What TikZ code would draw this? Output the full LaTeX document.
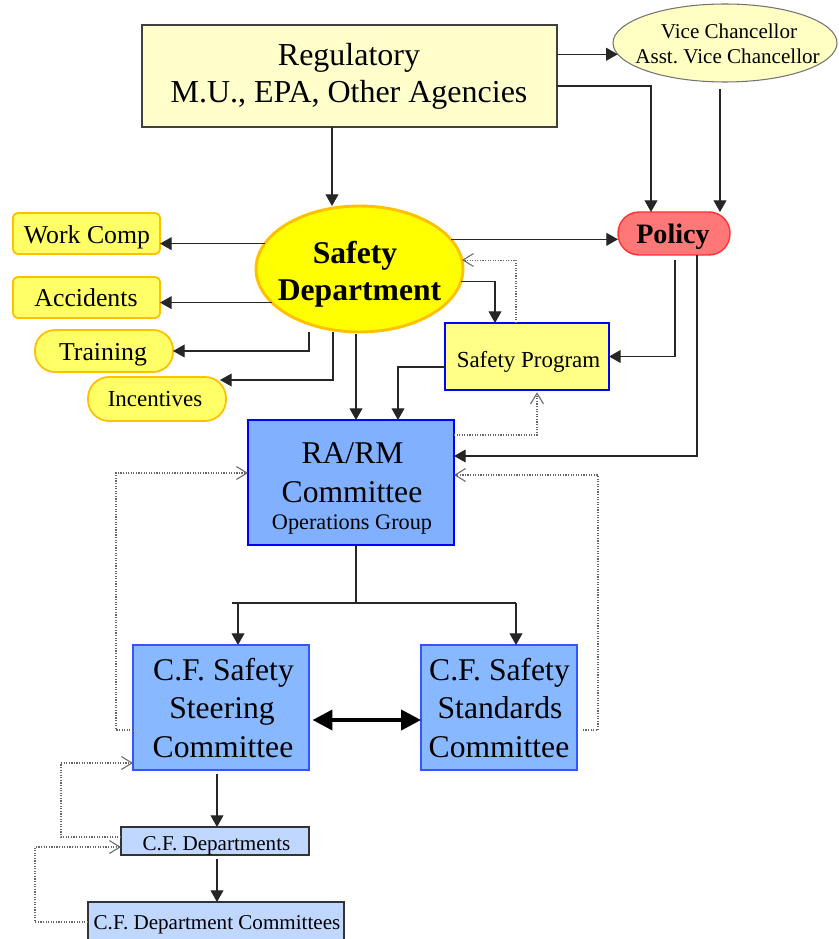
\documentclass[tikz,border=0pt]{standalone}
\usepackage{fontspec}
\setmainfont{Liberation Serif}
\usetikzlibrary{arrows.meta,calc,shapes.geometric}
\definecolor{regfill}{HTML}{FFFFCC}
\definecolor{vcfill}{HTML}{FFFFC4}
\definecolor{gold}{HTML}{FFC000}
\definecolor{lyel}{HTML}{FFFF66}
\definecolor{sdyel}{HTML}{FFFF00}
\definecolor{polfill}{HTML}{FF7777}
\definecolor{polline}{HTML}{FF3333}
\definecolor{spfill}{HTML}{FFFF88}
\definecolor{rafill}{HTML}{80B0FF}
\definecolor{stfill}{HTML}{88B8FF}
\definecolor{stline}{HTML}{3355FF}
\definecolor{cfdfill}{HTML}{C0D8FF}
\newcommand\fsz[1]{\fontsize{#1}{#1}\selectfont}
\frenchspacing
\begin{document}
\begin{tikzpicture}[x=0.8536pt,y=-0.8536pt,
  sz/.style 2 args={minimum width={#1*0.8536pt},minimum height={#2*0.8536pt}},
  shp/.style={inner sep=0pt,outer sep=0pt},
  txt/.style={anchor=base,inner sep=0pt},
  arr/.style={draw=black!85,line width=1.1pt,-{Triangle[length=10pt,width=11pt]}},
  ln/.style={draw=black!85,line width=1.1pt},
  dotarr/.style={draw=black!60,line width=0.9pt,dash pattern=on 1pt off 1.2pt,-{Straight Barb[length=9pt,width=11pt]}}]
\useasboundingbox (0,0) rectangle (838,939);
\clip (0,0) rectangle (838,939);
% shapes
\node[shp,sz={415}{102},draw=black!75,line width=1.1pt,fill=regfill] (reg) at (349.5,76) {};
\node[shp,ellipse,sz={224}{78},draw=black!55,line width=0.9pt,fill=vcfill] (vc) at (725,43) {};
\node[shp,sz={112}{43},rounded corners=18pt,draw=polline,line width=1.2pt,fill=polfill] (pol) at (674,233.5) {};
\node[shp,ellipse,sz={207}{126},draw=gold,line width=2.5pt,fill=sdyel] (sd) at (359.5,269) {};
\node[shp,sz={147}{41},rounded corners=4pt,draw=gold,line width=1.5pt,fill=lyel] (wc) at (86.5,233.5) {};
\node[shp,sz={147}{41},rounded corners=4pt,draw=gold,line width=1.5pt,fill=lyel] (acc) at (86.5,297.5) {};
\node[shp,sz={138}{42},rounded corners=17pt,draw=gold,line width=1.5pt,fill=lyel] (trn) at (104,351) {};
\node[shp,sz={138}{44},rounded corners=18pt,draw=gold,line width=1.5pt,fill=lyel] (inc) at (157,399) {};
\node[shp,sz={164}{67},draw=blue,line width=2.5pt,fill=spfill] (sp) at (527,356.5) {};
\node[shp,sz={206}{125},draw=blue,line width=2.5pt,fill=rafill] (ra) at (351,482.5) {};
\node[shp,sz={176}{125},draw=stline,line width=1pt,fill=stfill] (st) at (221,707.5) {};
\node[shp,sz={156}{125},draw=stline,line width=1pt,fill=stfill] (std) at (499,707.5) {};
\node[shp,sz={188}{28},draw=black!80,line width=1pt,fill=cfdfill] (cfd) at (215,841) {};
\node[shp,sz={256}{42},draw=black!80,line width=1pt,fill=cfdfill] (cfdc) at (216,923) {};
% texts
\node[txt,font=\fsz{27.3}] (reg1) at (349,66) {Regulatory};
\node[txt,font=\fsz{27.3}] (reg2) at (349,103) {M.U., EPA, Other Agencies};
\node[txt,font=\fsz{18}] (vc1) at (729,39) {Vice Chancellor};
\node[txt,font=\fsz{18}] (vc2) at (727.5,64) {Asst. Vice Chancellor};
\node[txt,font=\fsz{27}\bfseries] (sd1) at (355,263) {Safety};
\node[txt,font=\fsz{27}\bfseries] (sd2) at (359.5,300) {Department};
\node[txt,font=\fsz{24}\bfseries] (pol1) at (673,243) {Policy};
\node[txt,font=\fsz{22}] (wc1) at (87,243) {Work Comp};
\node[txt,font=\fsz{22}] (acc1) at (86,306.7) {Accidents};
\node[txt,font=\fsz{22}] (trn1) at (103,360) {Training};
\node[txt,font=\fsz{19.6}] (inc1) at (155,406) {Incentives};
\node[txt,font=\fsz{19.6}] (sp1) at (528.5,367) {Safety Program};
\node[txt,font=\fsz{27}] (ra1) at (352.5,463) {RA/RM};
\node[txt,font=\fsz{27}] (ra2) at (352,502) {Committee};
\node[txt,font=\fsz{19}] (ra3) at (352,529) {Operations Group};
\node[txt,font=\fsz{27}] (st1) at (223.5,680) {C.F. Safety};
\node[txt,font=\fsz{27}] (st2) at (222,718) {Steering};
\node[txt,font=\fsz{27}] (st3) at (223,757) {Committee};
\node[txt,font=\fsz{27}] (std1) at (499.5,680) {C.F. Safety};
\node[txt,font=\fsz{27}] (std2) at (500,718) {Standards};
\node[txt,font=\fsz{27}] (std3) at (499,757) {Committee};
\node[txt,font=\fsz{18}] (cfd1) at (216.5,850) {C.F. Departments};
\node[txt,font=\fsz{18}] (cfdc1) at (217,929) {C.F. Department Committees};
% connectors
\draw[arr] (reg.east |- vc.186.4) -- (vc.186.4);
\draw[arr] (reg.east |- 0,86) -| (651,0 |- pol.north);
\draw[arr,shorten <=6pt] (720,0 |- vc.south) -- (720,0 |- pol.north);
\draw[arr] (332,0 |- reg.south) -- (sd.north -| 332,0);
\draw[arr] (sd.165.3) -- (wc.east |- sd.165.3);
\draw[arr] (sd.201.3) -- (acc.east |- sd.201.3);
\draw[arr] (309,0 |- sd.south) |- (trn.east);
\draw[arr] (333,0 |- sd.south) |- ($(inc.north east)+(-6,3)$);
\draw[arr,shorten <=2pt] (356,0 |- sd.south) -- (356,0 |- ra.north);
\draw[arr] (sd.18.2) -- (pol.west |- sd.18.2);
\draw[arr] (sd.-7.3) -| (495,0 |- sp.north);
\draw[dotarr] (516,0 |- sp.north) |- (sd.5);
\draw[arr,shorten <=4pt] (675,0 |- pol.south) |- (sp.east);
\draw[arr] (697,0 |- pol.south) |- (ra.east |- 0,456);
\draw[arr] (sp.west |- 0,367) -| (398,0 |- ra.north);
\draw[dotarr,shorten >=2pt] (ra.east |- 0,435) -| (537,0 |- sp.south);
\coordinate (split) at (356,603);
\coordinate (bl) at (232,603);
\coordinate (br) at (516,603);
\draw[ln] (356,0 |- ra.south) -- (split);
\draw[ln] (bl) -- (br);
\draw[arr] (238,0 |- split) -- (238,0 |- st.north);
\draw[arr] (br) -- (516,0 |- std.north);
\draw[draw=black,line width=3.4pt,{Triangle[length=17pt,width=17pt]}-{Triangle[length=17pt,width=17pt]},shorten <=3pt] (st.east |- 0,720) -- (std.west |- 0,720);
\draw[dotarr] (st.west |- 0,730) -| (116,473) -- (ra.west |- 0,473);
\draw[dotarr,shorten <=5pt] (std.east |- 0,730) -| (598,475) -- (ra.east |- 0,475);
\draw[arr,shorten <=3pt] (217,0 |- st.south) -- (217,0 |- cfd.north);
\draw[arr,shorten <=3pt] (217,0 |- cfd.south) -- (217,0 |- cfdc.north);
\draw[dotarr] (cfd.west |- 0,837) -| (61,763) -- (st.west |- 0,763);
\draw[dotarr] (cfdc.west |- 0,922) -| (35,847) -- (cfd.west |- 0,847);
\end{tikzpicture}
\end{document}
